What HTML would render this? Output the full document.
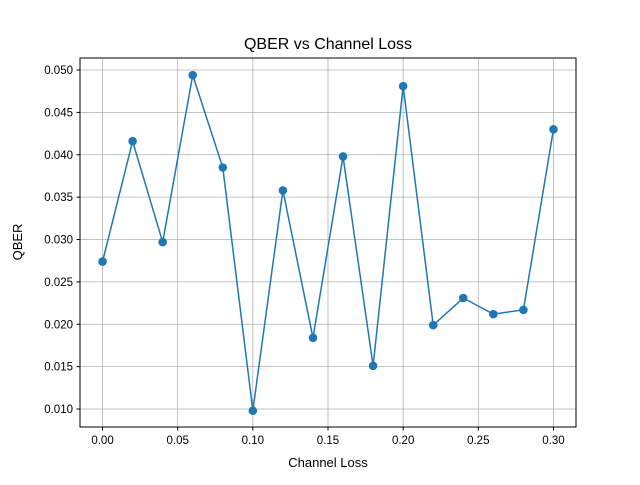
<!DOCTYPE html>
<html><head><meta charset="utf-8"><style>
body{margin:0;background:#fff}
svg{font-family:"Liberation Sans","DejaVu Sans",sans-serif}
</style></head><body>
<svg id="chart" width="640" height="480">
<rect width="640" height="480" fill="#fff"/>
<text x="328" y="49" text-anchor="middle" font-size="16">QBER vs Channel Loss</text>
<text x="328" y="467" text-anchor="middle" font-size="13">Channel Loss</text>
<text x="22" y="242" text-anchor="middle" font-size="13" transform="rotate(-90 22 242)">QBER</text>
<g id="grid"></g>
<g id="ticks"></g>
<g id="series"></g>
<rect x="80" y="58" width="496" height="369" fill="none" stroke="#000" stroke-width="1"/>
</svg>
<script>
const channelLoss = [0,0.02,0.04,0.06,0.08,0.10,0.12,0.14,0.16,0.18,0.20,0.22,0.24,0.26,0.28,0.30];
const qber = [0.0274,0.0416,0.0297,0.0494,0.0385,0.0098,0.0358,0.0184,0.0398,0.0151,0.0481,0.0199,0.0231,0.0212,0.0217,0.0430];
const xTicks = [0,0.05,0.10,0.15,0.20,0.25,0.30];
const xTickLabels = ["0.00","0.05","0.10","0.15","0.20","0.25","0.30"];
const yTicks = [0.010,0.015,0.020,0.025,0.030,0.035,0.040,0.045,0.050];
const yTickLabels = ["0.010","0.015","0.020","0.025","0.030","0.035","0.040","0.045","0.050"];
const L=80,R=576,T=58,B=427;
const xMin=-0.015,xMax=0.315,yMin=0.00788,yMax=0.05142;
const sx=v=>L+(v-xMin)/(xMax-xMin)*(R-L);
const sy=v=>B-(v-yMin)/(yMax-yMin)*(B-T);
const NS="http://www.w3.org/2000/svg";
function mk(tag,attrs,parent){const e=document.createElementNS(NS,tag);for(const k in attrs)e.setAttribute(k,attrs[k]);parent.appendChild(e);return e;}
const grid=document.getElementById('grid'),ticks=document.getElementById('ticks'),series=document.getElementById('series');
xTicks.forEach((v,i)=>{const x=sx(v);
 let g=mk('line',{x1:x,x2:x,y1:T,y2:B,stroke:'#b0b0b0','stroke-width':0.8},grid);
 
 
 let t=mk('line',{x1:x,x2:x,y1:B,y2:B+3.5,stroke:'#000'},ticks);
 
 
 let l=mk('text',{x:x,y:B+17,'text-anchor':'middle','font-size':11.5},ticks);l.textContent=xTickLabels[i];
 
 
});
yTicks.forEach((v,i)=>{const y=sy(v);
 let g=mk('line',{x1:L,x2:R,y1:y,y2:y,stroke:'#b0b0b0','stroke-width':0.8},grid);
 
 
 let t=mk('line',{x1:L-3.5,x2:L,y1:y,y2:y,stroke:'#000'},ticks);
 
 
 let l=mk('text',{x:L-7,y:y+4,'text-anchor':'end','font-size':11.5},ticks);l.textContent=yTickLabels[i];
 
 
});
const pts=channelLoss.map((v,i)=>sx(v)+','+sy(qber[i])).join(' ');
let pl=mk('polyline',{points:pts,fill:'none',stroke:'#1f77b4','stroke-width':1.5},series);


channelLoss.forEach((v,i)=>{
 let c=mk('circle',{cx:sx(v),cy:sy(qber[i]),r:4.3,fill:'#1f77b4'},series);
 
 
});
</script>
</body></html>
